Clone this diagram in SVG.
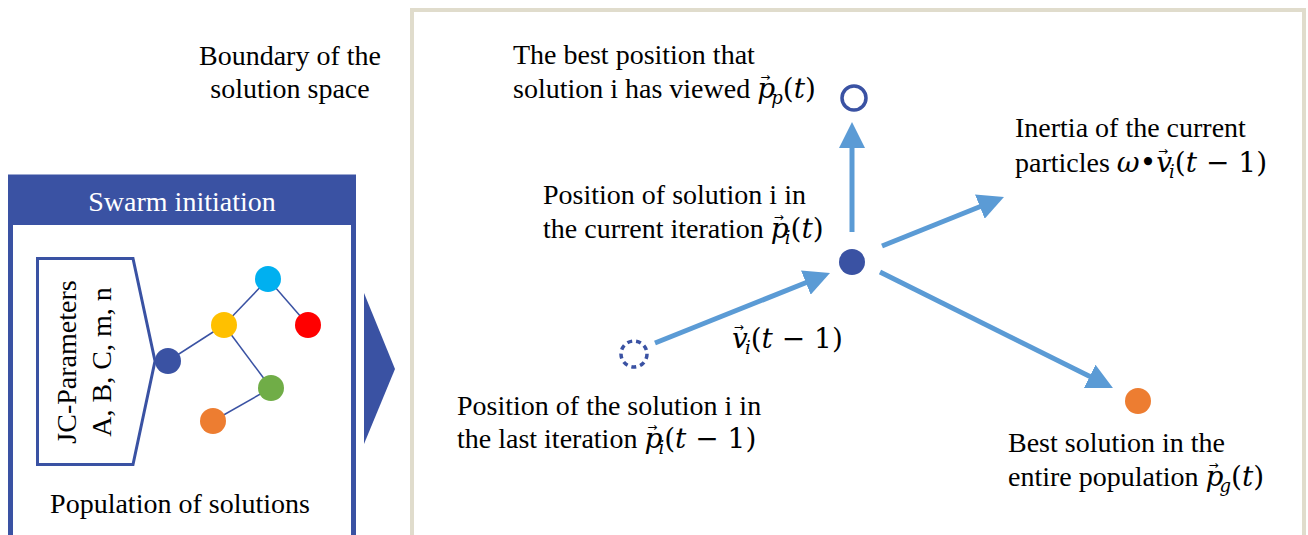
<svg xmlns="http://www.w3.org/2000/svg" width="1308" height="535" viewBox="0 0 1308 535">
<style>
.t{font-family:"Liberation Serif","Times New Roman",serif;font-size:28px;fill:#000}
.m{font-family:"DejaVu Serif","Liberation Serif",serif;font-style:italic}
.u{font-family:"DejaVu Serif","Liberation Serif",serif;font-style:normal}
.v{font-family:"DejaVu Sans",sans-serif;font-style:normal;font-size:12px}
.sub{font-size:18px}
.arr{stroke:#5b9bd5;stroke-width:5;fill:none;marker-end:url(#ah)}
.edge{stroke:#3a52a3;stroke-width:1.5}
</style>
<defs>
<marker id="ah" viewBox="0 0 26 26" refX="16" refY="13" markerWidth="26" markerHeight="26" markerUnits="userSpaceOnUse" orient="auto">
<path d="M0,0 L26,13 L0,26 z" fill="#5b9bd5"/>
</marker>
</defs>
<rect width="1308" height="535" fill="#fff"/>

<g id="boundary">
<rect x="412" y="10" width="892" height="560" fill="none" stroke="#e0dccc" stroke-width="4"/>
<text class="t" x="290" y="65" text-anchor="middle">Boundary of the</text>
<text class="t" x="290" y="98" text-anchor="middle">solution space</text>
</g>

<g id="swarm-initiation">
<rect x="10.5" y="177" width="343" height="420" fill="#fff" stroke="#3a52a3" stroke-width="5"/>
<rect x="8" y="175" width="348" height="50" fill="#3a52a3"/>
<text class="t" x="182" y="211" text-anchor="middle" style="fill:#fff">Swarm initiation</text>
<path d="M37.5,258.5 L133,258.5 L155,361 L133,464.5 L37.5,464.5 Z" fill="#fff" stroke="#3a52a3" stroke-width="3"/>
<text class="t" transform="translate(76,362) rotate(-90)" text-anchor="middle">JC-Parameters</text>
<text class="t" transform="translate(111,362) rotate(-90)" text-anchor="middle">A, B, C, m, n</text>
<text class="t" x="180" y="513" text-anchor="middle">Population of solutions</text>
<g id="population-graph">
<line class="edge" x1="168" y1="361" x2="224" y2="325"/>
<line class="edge" x1="224" y1="325" x2="268" y2="279"/>
<line class="edge" x1="268" y1="279" x2="308" y2="325"/>
<line class="edge" x1="224" y1="325" x2="271" y2="388"/>
<line class="edge" x1="271" y1="388" x2="213" y2="421"/>
<circle cx="168" cy="361" r="13" fill="#3a52a3"/>
<circle cx="224" cy="325" r="13" fill="#ffc000"/>
<circle cx="268" cy="279" r="13" fill="#00b0f0"/>
<circle cx="308" cy="325" r="13" fill="#ff0000"/>
<circle cx="271" cy="388" r="13" fill="#70ad47"/>
<circle cx="213" cy="421" r="13" fill="#ed7d31"/>
</g>
</g>

<g id="flow-arrow">
<path d="M364,293 L395,369 L364,444 Z" fill="#3a52a3"/>
</g>

<g id="connectors">
<line class="arr" x1="852" y1="232" x2="852" y2="132"/>
<line class="arr" x1="882" y1="246" x2="994.7" y2="200.7"/>
<line class="arr" x1="655" y1="343" x2="820.7" y2="276.7"/>
<line class="arr" x1="880" y1="272" x2="1104" y2="383.5"/>
</g>

<g id="current-position">
<circle cx="852" cy="262" r="13" fill="#3a52a3"/>
<text class="t" x="543" y="204">Position of solution i in</text>
<text class="t" x="543" y="238">the current iteration <tspan class="m">p</tspan><tspan class="v" dx="-15" dy="-17">→</tspan><tspan class="m sub" dx="1" dy="23">i</tspan><tspan class="u" dy="-6">(</tspan><tspan class="m">t</tspan><tspan class="u">)</tspan></text>
</g>

<g id="personal-best">
<circle cx="854" cy="98" r="12" fill="none" stroke="#3a52a3" stroke-width="3.5"/>
<text class="t" x="513" y="64">The best position that</text>
<text class="t" x="513" y="98">solution i has viewed <tspan class="m">p</tspan><tspan class="v" dx="-15" dy="-17">→</tspan><tspan class="m sub" dx="1" dy="23">p</tspan><tspan class="u" dy="-6">(</tspan><tspan class="m">t</tspan><tspan class="u">)</tspan></text>
</g>

<g id="inertia">
<text class="t" x="1015" y="137">Inertia of the current</text>
<text class="t" x="1015" y="172">particles <tspan class="m">ω</tspan><tspan class="u">•</tspan><tspan class="m">v</tspan><tspan class="v" dx="-14" dy="-17">→</tspan><tspan class="m sub" dx="1" dy="23">i</tspan><tspan class="u" dy="-6">(</tspan><tspan class="m">t</tspan><tspan class="u"> − 1)</tspan></text>
</g>

<g id="last-position">
<circle cx="634" cy="354" r="13" fill="none" stroke="#3a52a3" stroke-width="3.5" stroke-dasharray="5 4"/>
<text class="t" x="732" y="348"><tspan class="m">v</tspan><tspan class="v" dx="-14" dy="-17">→</tspan><tspan class="m sub" dx="1" dy="23">i</tspan><tspan class="u" dy="-6">(</tspan><tspan class="m">t</tspan><tspan class="u"> − 1)</tspan></text>
<text class="t" x="457" y="415">Position of the solution i in</text>
<text class="t" x="457" y="448">the last iteration <tspan class="m">p</tspan><tspan class="v" dx="-15" dy="-17">→</tspan><tspan class="m sub" dx="1" dy="23">i</tspan><tspan class="u" dy="-6">(</tspan><tspan class="m">t</tspan><tspan class="u"> − 1)</tspan></text>
</g>

<g id="global-best">
<circle cx="1138" cy="401" r="13" fill="#ed7d31"/>
<text class="t" x="1008" y="452">Best solution in the</text>
<text class="t" x="1008" y="486">entire population <tspan class="m">p</tspan><tspan class="v" dx="-15" dy="-17">→</tspan><tspan class="m sub" dx="1" dy="23">g</tspan><tspan class="u" dy="-6">(</tspan><tspan class="m">t</tspan><tspan class="u">)</tspan></text>
</g>
</svg>
